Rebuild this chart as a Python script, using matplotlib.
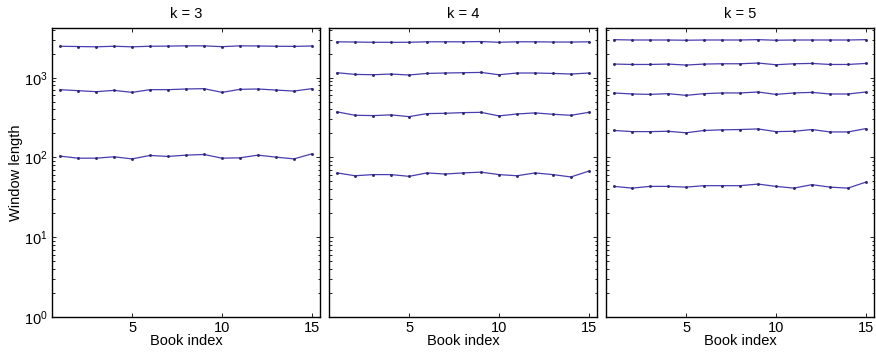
import numpy as np
import matplotlib.pyplot as plt
from matplotlib.ticker import LogLocator, NullFormatter

plt.rcParams['font.family'] = ['Liberation Sans', 'DejaVu Sans']
plt.rcParams['font.size'] = 10.5

book = np.arange(1, 16)

# window lengths per k, one list per series (top to bottom)
k3 = [
    [2480, 2460, 2440, 2480, 2440, 2480, 2490, 2510, 2510, 2450, 2510, 2500, 2480, 2470, 2500],
    [708, 688, 668, 694, 655, 708, 708, 722, 729, 655, 715, 722, 700, 680, 729],
    [104, 98, 98, 102, 96, 106, 103, 107, 109, 98, 99, 107, 101, 96, 111],
]
k4 = [
    [2820, 2800, 2780, 2780, 2780, 2820, 2820, 2820, 2840, 2780, 2820, 2820, 2800, 2800, 2820],
    [1155, 1100, 1090, 1112, 1081, 1132, 1145, 1155, 1165, 1090, 1145, 1145, 1132, 1112, 1145],
    [373, 338, 335, 342, 325, 355, 358, 365, 368, 332, 351, 362, 348, 338, 368],
    [64, 59, 61, 61, 58, 64, 62, 64, 65.5, 61, 59, 64, 61, 57, 67.5],
]
k5 = [
    [3000, 2970, 2970, 2970, 2950, 2970, 2970, 2970, 3000, 2950, 2970, 2970, 2970, 2970, 3000],
    [1483, 1466, 1466, 1483, 1441, 1483, 1496, 1496, 1527, 1454, 1496, 1510, 1466, 1466, 1510],
    [644, 625, 618, 631, 601, 631, 644, 644, 662, 618, 644, 655, 625, 625, 662],
    [218, 211, 211, 213, 204, 218, 222, 224, 228, 211, 213, 224, 209, 209, 230],
    [43.4, 41.3, 43.4, 43.4, 42.5, 44.3, 44.3, 44.3, 46.4, 43.4, 41.3, 45.6, 42.5, 41.3, 49.1],
]
panels = [("k = 3", k3), ("k = 4", k4), ("k = 5", k5)]

fig = plt.figure(figsize=(8.76, 3.55), dpi=100)
lefts = [52, 329, 606]
for i, (title, series) in enumerate(panels):
    ax = fig.add_axes([lefts[i] / 876, 38 / 355, 268 / 876, 289 / 355])
    for s in series:
        ax.plot(book, s, '-', color='#4a3cb0', lw=0.9,
                marker='.', ms=2.2, mfc='#2a2a70', mec='#2a2a70')
    ax.set_yscale('log')
    ax.set_ylim(1, 4200)
    ax.set_xlim(0.55, 15.45)
    ax.set_xticks([5, 10, 15])
    ax.yaxis.set_major_locator(LogLocator(base=10, numticks=10))
    ax.yaxis.set_minor_locator(LogLocator(base=10, subs=np.arange(2, 10), numticks=10))
    ax.yaxis.set_minor_formatter(NullFormatter())
    ax.tick_params(which='both', direction='in', top=True, right=True, width=0.6)
    ax.tick_params(which='major', length=3, pad=3)
    ax.tick_params(which='minor', length=1.8)
    for sp in ax.spines.values():
        sp.set_linewidth(1.0)
    ax.set_title(title, fontsize=10.5, pad=7)
    ax.set_xlabel("Book index", labelpad=-1)
    if i == 0:
        ax.set_ylabel("Window length", labelpad=1)
    else:
        ax.set_yticklabels([])

fig.savefig("out.png", dpi=100)
